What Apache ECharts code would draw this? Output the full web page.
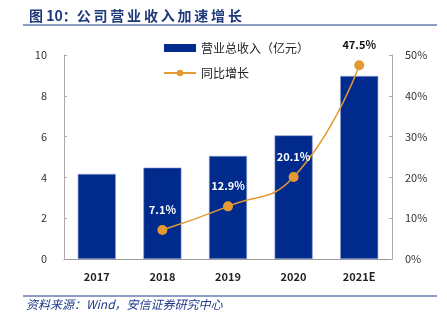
<!DOCTYPE html>
<html><head><meta charset="utf-8">
<script src="https://cdn.jsdelivr.net/npm/echarts@6/dist/echarts.min.js"></script>
<style>html,body{margin:0;padding:0;background:#fff;}#c{width:447px;height:324px;}</style>
</head><body><div id="c"></div>
<script>
var categories = ['2017', '2018', '2019', '2020', '2021E'];
var revenue = [4.17, 4.48, 5.05, 6.06, 8.97];
var growth = [null, 7.1, 12.9, 20.1, 47.5];
var leftTicks = [0, 2, 4, 6, 8, 10];
var rightTicks = [0, 10, 20, 30, 40, 50];

var chart = echarts.init(document.getElementById('c'));
var font = '"Noto Sans CJK SC", "Noto Sans", sans-serif';
var d = growth.map(function(v, i){
  if (v === null) return null;
  if (i === growth.length - 1) return {value: v, label: {color: '#111'}};
  return v;
});
chart.setOption({
  animation: false,
  textStyle: {fontFamily: font},
  title: {
    text: '图 10：公\u2009司\u2009营\u2009业\u2009收\u2009入\u2009加\u2009速\u2009增\u2009长', left: 24, top: 4,
    textStyle: {fontSize: 14, fontWeight: 'bold', color: '#1F3A7A', fontFamily: font}
  },
  graphic: [
    {type: 'line', shape: {x1: 23, y1: 25, x2: 437, y2: 25}, style: {stroke: '#1F3A8A', lineWidth: 1.2}},
    {type: 'line', shape: {x1: 23, y1: 296, x2: 437, y2: 296}, style: {stroke: '#1F3A8A', lineWidth: 1.2}},
    {type: 'text', left: 26, top: 298, style: {text: '资料来源：Wind，安信证券研究中心', fill: '#1F3A8A', fontSize: 12, fontStyle: 'italic', fontFamily: font}}
  ],
  legend: {
    orient: 'vertical', left: 158, top: 37, itemGap: 13,
    itemWidth: 32, itemHeight: 8,
    textStyle: {fontSize: 12, color: '#222', fontFamily: font},
    data: [
      {name: '营业总收入（亿元）', icon: 'rect', itemStyle: {borderWidth: 0}},
      {name: '同比增长'}
    ]
  },
  grid: {left: 64, right: 55, top: 55, bottom: 65},
  xAxis: {
    type: 'category', data: categories,
    axisLine: {lineStyle: {color: '#999'}},
    axisTick: {inside: true, length: 4, lineStyle: {color: '#999'}},
    axisLabel: {fontSize: 11, fontWeight: 'bold', color: '#222', margin: 12}
  },
  yAxis: [
    {type: 'value', min: 0, max: 10, interval: 2,
     axisLine: {show: true, lineStyle: {color: '#aaa'}},
     axisTick: {show: true, inside: true, length: 3, lineStyle: {color: '#aaa'}},
     splitLine: {show: false},
     axisLabel: {fontSize: 11, color: '#333', margin: 17}},
    {type: 'value', min: 0, max: 50, interval: 10,
     axisLine: {show: true, lineStyle: {color: '#aaa'}},
     axisTick: {show: true, inside: true, length: 3, lineStyle: {color: '#aaa'}},
     splitLine: {show: false},
     axisLabel: {fontSize: 11, color: '#333', margin: 13, formatter: '{value}%'}}
  ],
  series: [
    {name: '营业总收入（亿元）', type: 'bar', data: revenue, barWidth: '58%',
     itemStyle: {color: '#002B8C', borderColor: '#8DA0D4', borderWidth: 0.6}},
    {name: '同比增长', type: 'line', yAxisIndex: 1, data: d, smooth: true,
     symbol: 'circle', symbolSize: 10,
     lineStyle: {color: '#E39A32', width: 1.5},
     itemStyle: {color: '#E39A32'},
     label: {show: true, position: 'top', distance: 10, fontSize: 11, fontWeight: 'bold',
       formatter: function(p){return p.value.toFixed(1) + '%';},
       color: '#fff'}
    }
  ]
});
</script></body></html>
